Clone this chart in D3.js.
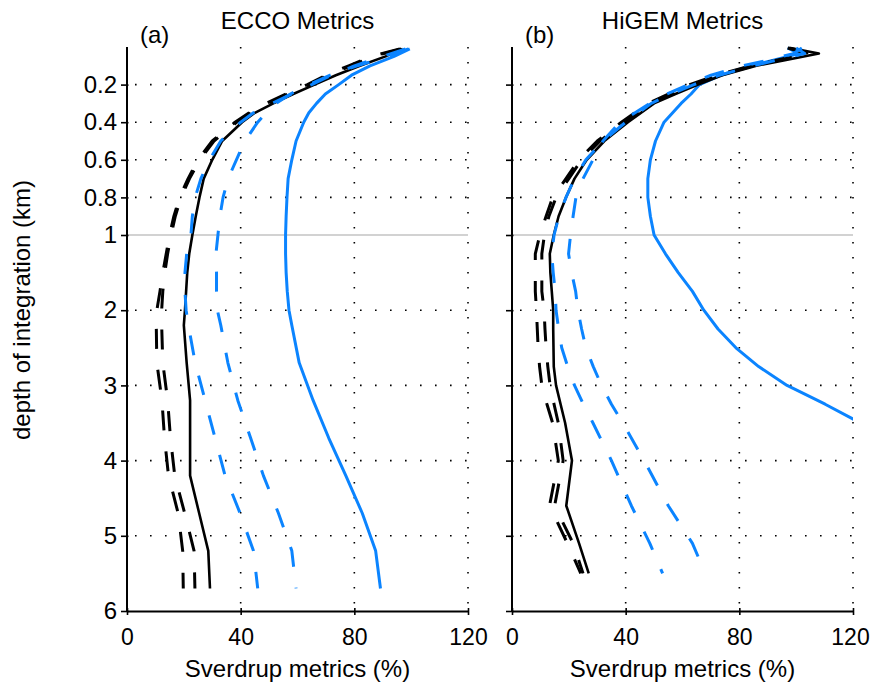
<!DOCTYPE html>
<html>
<head>
<meta charset="utf-8">
<script src="https://cdn.jsdelivr.net/npm/d3@7"></script>
<style>
  body { margin: 0; background: #fff; }
  text { font-family: "Liberation Sans", Arial, sans-serif; fill: #000; }
</style>
</head>
<body>
<div id="chart"></div>
<script>
// depth levels (km) and metric values (%)
var eccoDepth      = [0.01, 0.05, 0.1, 0.15, 0.2, 0.25, 0.3, 0.35, 0.4, 0.5, 0.6, 0.7, 0.8, 0.9, 1.0, 1.25, 1.5, 1.75, 2.0, 2.2, 2.7, 3.2, 3.7, 4.2, 4.7, 5.2, 5.7];
var eccoBlackSolid = [97, 91, 82, 73.5, 66, 58.5, 51.5, 45, 40.5, 33.5, 30, 27, 25.5, 24.2, 23, 21.9, 21.2, 20.8, 20.4, 20, 21, 22.2, 22.2, 22.2, 25.4, 28.6, 29.2];
var eccoBlackDash1 = [96, 86, 78, 70, 63.5, 56, 49, 43, 38, 30, 25, 21.5, 18.5, 16.5, 15, 13.8, 12.6, 11.6, 10.5, 10.3, 10.5, 12.3, 13.2, 14.6, 18, 19.6, 19.8];
var eccoBlackDash2 = [96.5, 86.8, 78.8, 70.8, 64.2, 56.7, 49.7, 43.6, 38.6, 30.6, 25.6, 22, 19, 17, 15.5, 14.3, 13.3, 12.6, 12.2, 12.2, 12.6, 14.3, 15.3, 16.8, 20.3, 23.6, 23.9];
var eccoBlueSolid  = [99.5, 94, 85.5, 79, 74.5, 69.8, 66.7, 64, 62.2, 59.5, 58, 56.7, 56.3, 56, 55.8, 55.8, 56, 56.4, 57, 58, 60.6, 65.5, 71, 77, 82.8, 87.5, 89.2];
var eccoBlueDash1  = [98, 90, 80, 72, 65, 58, 51, 44.5, 40, 33, 29, 26, 24, 23, 22.5, 21, 20.4, 20.4, 20.8, 21.6, 24, 27.5, 31, 34.5, 39.8, 44.5, 46];
var eccoBlueDash2  = [99, 92, 81, 71.5, 64, 57.5, 52.5, 49, 46, 41.5, 38.5, 35.6, 33.8, 32.7, 32, 31.3, 31.5, 31.5, 31.8, 33, 35.5, 39, 43.5, 48, 53.3, 58, 59.5];

var higemDepth      = [0.005, 0.035, 0.07, 0.1, 0.15, 0.2, 0.25, 0.3, 0.4, 0.5, 0.6, 0.7, 0.8, 0.9, 1.0, 1.25, 1.5, 1.75, 2.0, 2.25, 2.5, 2.75, 3.0, 3.25, 3.5, 4.0, 4.6, 5.1, 5.5];
var higemBlackSolid = [98, 108, 96, 86, 74, 65.5, 57.5, 50, 40.8, 32.5, 26.3, 22, 19, 16.4, 14.7, 13.3, 13.5, 14, 14.5, 14.5, 14.6, 14.7, 15.5, 17.1, 18.7, 21.1, 19.1, 23.6, 27];
var higemBlackDash1 = [97, 104, 93, 84, 72, 62.5, 55, 48, 38.5, 30, 23.5, 19, 14.3, 12, 9.8, 8.2, 8.2, 8.2, 8.6, 8.9, 9.2, 9.7, 10.5, 12.3, 14.3, 16.3, 13.2, 19.5, 24.2];
var higemBlackDash2 = [97.5, 105, 94, 85, 73, 63.5, 56, 49, 39.5, 31, 24.5, 20, 15.5, 13, 11.4, 10.5, 10.5, 10.5, 11.3, 11.6, 12, 12.6, 13.4, 14.8, 16.3, 18, 15, 21.5, 25];
var higemBlueSolid  = [97, 101, 92, 84, 73.5, 66, 63, 59.5, 53.5, 50.5, 48.7, 47.8, 47.8, 48.7, 50, 54, 58.5, 63.5, 67.5, 72.5, 78.8, 86.8, 96.8, 110.2, 122.6, null, null, null, null];
var higemBlueDash1  = [100, 103, 93, 85, 73, 64, 56, 49, 40, 32, 26, 22, 19, 16.5, 14.8, 14, 14.5, 15.2, 15.5, 16.4, 17.5, 19.6, 22, 25.1, 28.5, 35, 42, 48.5, 53];
var higemBlueDash2  = [102, 99, 90, 81, 70, 62, 54.5, 48.5, 38, 32, 28.5, 25, 22.5, 21.5, 20.6, 19.9, 21, 22.4, 23.2, 24.5, 26, 28.6, 31.5, 35, 39, 46.5, 55, 63.5, 68];

var depthTicks = [0.2, 0.4, 0.6, 0.8, 1, 2, 3, 4, 5, 6];
var depthTickLabels = ["0.2", "0.4", "0.6", "0.8", "1", "2", "3", "4", "5", "6"];
var pctTicks = [0, 40, 80, 120];
var panelTitles = ["ECCO Metrics", "HiGEM Metrics"];
var panelLetters = ["(a)", "(b)"];

var width = 872, height = 683;
var blue = "#0b84ff";
var fontSize = 24;

var svg = d3.select("#chart")
  .append("svg")
    .attr("width", width)
    .attr("height", height);

// depth axis is stretched above 1 km
var y = d3.scaleLinear().domain([0, 1, 6]).range([47, 235, 611]);

var panels = [
  { x: d3.scaleLinear().domain([0, 120]).range([127, 468]), depth: eccoDepth,
    series: [eccoBlueSolid, eccoBlackSolid, eccoBlackDash1, eccoBlackDash2, eccoBlueDash1, eccoBlueDash2], labels: true },
  { x: d3.scaleLinear().domain([0, 120]).range([512, 853]), depth: higemDepth,
    series: [higemBlueSolid, higemBlackSolid, higemBlackDash1, higemBlackDash2, higemBlueDash1, higemBlueDash2], labels: false }
];

var styles = [
  { color: blue, width: 3, dash: null },
  { color: "#000", width: 2.6, dash: null },
  { color: "#000", width: 3, dash: "20,21" },
  { color: "#000", width: 3, dash: "20,21" },
  { color: blue, width: 3, dash: "20,21" },
  { color: blue, width: 3, dash: "20,21" }
];

panels.forEach(function(p, i) {
  var x = p.x;
  var g = svg.append("g");
  var x0 = x.range()[0], x1 = x.range()[1];

  // dotted grid
  g.selectAll(".hgrid")
    .data(depthTicks.filter(function(d) { return d !== 1 && d !== 6; }))
    .enter().append("line")
      .attr("x1", x0 + 8).attr("x2", x1)
      .attr("y1", function(d) { return y(d); })
      .attr("y2", function(d) { return y(d); })
      .attr("stroke", "#000").attr("stroke-width", 1.6)
      .attr("stroke-dasharray", "1.6,13.4");

  g.selectAll(".vgrid")
    .data(pctTicks.slice(1))
    .enter().append("line")
      .attr("x1", function(d) { return x(d); })
      .attr("x2", function(d) { return x(d); })
      .attr("y1", y(0)).attr("y2", y(6) - 4)
      .attr("stroke", "#000").attr("stroke-width", 1.6)
      .attr("stroke-dasharray", "1.6,13.4");

  // 1 km line
  g.append("line")
    .attr("x1", x0).attr("x2", x1)
    .attr("y1", y(1)).attr("y2", y(1))
    .attr("stroke", "#a6a6a6").attr("stroke-width", 1.2);

  // clip at the 120 % edge
  svg.append("clipPath").attr("id", "clip" + i)
    .append("rect")
      .attr("x", x0 - 5).attr("y", 0)
      .attr("width", x1 - x0 + 5).attr("height", height);

  var lines = g.append("g").attr("clip-path", "url(#clip" + i + ")");

  p.series.forEach(function(vals, k) {
    var st = styles[k];
    var pts = p.depth.map(function(d, j) { return [vals[j], d]; });
    var line = d3.line()
      .defined(function(d) { return d[0] !== null; })
      .x(function(d) { return x(d[0]); })
      .y(function(d) { return y(d[1]); });
    lines.append("path")
      .datum(pts)
      .attr("d", line)
      .attr("fill", "none")
      .attr("stroke", st.color)
      .attr("stroke-width", st.width)
      .attr("stroke-linejoin", "round")
      .attr("stroke-dasharray", st.dash);
  });

  // y axis
  var yAxis = g.append("g")
    .attr("transform", "translate(" + x0 + ",0)")
    .call(d3.axisLeft(y).tickValues(depthTicks)
      .tickFormat(function(d, j) { return p.labels ? depthTickLabels[j] : ""; })
      .tickSize(6).tickSizeOuter(0).tickPadding(4));
  yAxis.select(".domain").attr("d", "M0," + y(0) + "V" + y(6)).attr("stroke-width", 2);
  yAxis.selectAll(".tick line").attr("x1", 1.5).attr("stroke-width", 1.6);
  yAxis.selectAll("text").attr("font-size", fontSize).attr("font-family", "Liberation Sans, Arial, sans-serif").attr("fill", "#000");

  // x axis
  var xAxis = g.append("g")
    .attr("transform", "translate(0," + y(6) + ")")
    .call(d3.axisBottom(x).tickValues(pctTicks).tickSize(4).tickSizeOuter(0).tickPadding(14));
  xAxis.select(".domain").attr("stroke-width", 2);
  xAxis.selectAll(".tick line").attr("y1", -3).attr("stroke-width", 1.6);
  xAxis.selectAll("text").attr("font-size", 23).attr("font-family", "Liberation Sans, Arial, sans-serif").attr("fill", "#000")
    .attr("dx", function(d) { return (i === 1 && d === 120) ? -3 : 0; });

  svg.append("text")
    .attr("x", (x0 + x1) / 2).attr("y", 677)
    .attr("text-anchor", "middle").attr("font-size", fontSize)
    .text("Sverdrup metrics (%)");

  svg.append("text")
    .attr("x", (x0 + x1) / 2).attr("y", 29)
    .attr("text-anchor", "middle").attr("font-size", fontSize)
    .text(panelTitles[i]);

  svg.append("text")
    .attr("x", x0 + 13).attr("y", 43)
    .attr("font-size", fontSize)
    .text(panelLetters[i]);
});

svg.append("text")
  .attr("transform", "translate(30,310) rotate(-90)")
  .attr("text-anchor", "middle").attr("font-size", fontSize)
  .text("depth of integration (km)");
</script>
</body>
</html>
